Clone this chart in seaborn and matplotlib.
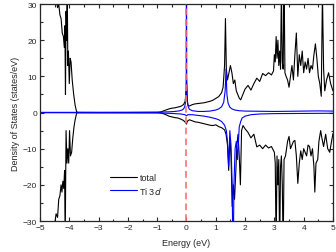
import numpy as np
import pandas as pd
import seaborn as sns
import matplotlib.pyplot as plt
from matplotlib.ticker import MultipleLocator

# total DOS, spin up
e_tot_up = [-5.00, -4.80, -4.60, -4.52, -4.48, -4.44, -4.40, -4.36, -4.32, -4.28, -4.24, -4.20,
            -4.17, -4.15, -4.13, -4.11, -4.09, -4.07, -4.05, -4.03, -4.00, -3.97, -3.94, -3.90,
            -3.85, -3.80, -3.75, -3.70, -3.00, -2.00, -1.00, -0.90, -0.80, -0.70, -0.60, -0.50,
            -0.40, -0.30, -0.20, -0.10, -0.05, -0.02, 0.00, 0.02, 0.05, 0.10, 0.20, 0.30, 0.40,
            0.50, 0.60, 0.70, 0.80, 0.90, 1.00, 1.10, 1.20, 1.25, 1.30, 1.33, 1.36, 1.40, 1.45,
            1.50, 1.55, 1.60, 1.65, 1.70, 1.75, 1.80, 1.85, 1.90, 2.00, 2.10, 2.20, 2.30, 2.40,
            2.50, 2.60, 2.70, 2.80, 2.90, 2.97, 3.00, 3.03, 3.06, 3.09, 3.12, 3.15, 3.18, 3.21,
            3.24, 3.27, 3.30, 3.33, 3.36, 3.40, 3.45, 3.50, 3.55, 3.60, 3.65, 3.70, 3.75, 3.80,
            3.85, 3.90, 3.95, 4.00, 4.05, 4.10, 4.15, 4.20, 4.25, 4.30, 4.35, 4.40, 4.45, 4.50,
            4.55, 4.60, 4.64, 4.68, 4.72, 4.78, 4.85, 4.92, 5.00]
tot_up = [45, 42, 38, 33, 30, 31, 29, 30, 27, 26, 22, 21,
          18, 24, 5, 28, 20, 36, 13, 17, 8, 15, 14, 9,
          5, 2, 0.2, 0.05, 0.02, 0.02, 0.05, 0.1, 0.4, 0.7, 1.0, 1.2,
          1.3, 1.5, 1.7, 2.2, 3.0, 5, 8, 4, 2.0, 1.8, 2.2, 2.4, 2.5,
          2.6, 2.7, 2.9, 3.1, 3.4, 3.9, 4.4, 5.5, 7, 13, 26, 12, 9, 11,
          13, 11, 8, 9, 6, 5, 4, 3.5, 4.5, 6.5, 7.5, 6.2, 8.0, 9.5,
          8.6, 10.8, 10.2, 11.0, 10.4, 11.5, 16, 14, 21, 15, 20, 13, 17, 12,
          34, 14, 12, 38, 11, 10, 9, 7, 10, 13, 9, 16, 22, 10,
          16, 13, 17, 11, 14, 12, 15, 11, 13, 12, 16, 19, 15, 10,
          8, 4.5, 33, 12, 6, 9, 11, 8, 6]

# total DOS, spin down
e_tot_dn = [-5.00, -4.60, -4.50, -4.45, -4.40, -4.36, -4.32, -4.28, -4.25, -4.22, -4.19, -4.16,
            -4.14, -4.11, -4.08, -4.05, -4.02, -3.99, -3.96, -3.92, -3.88, -3.84, -3.80, -3.75,
            -3.70, -1.00, -0.90, -0.80, -0.70, -0.60, -0.50, -0.40, -0.30, -0.20, -0.10, -0.03,
            0.00, 0.03, 0.10, 0.20, 0.30, 0.40, 0.50, 0.60, 0.70, 0.80, 0.90, 1.00, 1.10, 1.20,
            1.30, 1.35, 1.40, 1.44, 1.48, 1.52, 1.56, 1.60, 1.64, 1.68, 1.72, 1.76, 1.80, 1.84,
            1.88, 1.93, 2.00, 2.10, 2.20, 2.30, 2.40, 2.50, 2.60, 2.70, 2.80, 2.90, 3.00, 3.03,
            3.06, 3.09, 3.12, 3.15, 3.18, 3.21, 3.24, 3.27, 3.30, 3.33, 3.38, 3.45, 3.50, 3.55,
            3.60, 3.65, 3.70, 3.75, 3.80, 3.85, 3.90, 3.95, 4.00, 4.05, 4.10, 4.15, 4.20, 4.25,
            4.30, 4.35, 4.38, 4.42, 4.48, 4.52, 4.58, 4.62, 4.68, 4.75, 4.82, 4.89, 4.95, 5.00]
tot_dn = [-45, -36, -31, -28, -29, -24, -23, -20, -22, -19, -21, -16,
          -36, -5, -14, -10, -14, -5, -12, -11, -7, -4, -2, -0.2,
          -0.05, -0.05, -0.1, -0.3, -0.6, -1.0, -1.2, -1.4, -1.5, -1.8, -2.2, -2.8,
          -3.2, -2.4, -2.0, -2.3, -2.6, -2.7, -2.9, -3.1, -3.3, -3.5, -3.6, -3.4, -3.9, -4.2,
          -4.8, -6, -9, -16, -7, -12, -26, -20, -24, -17, -9, -6, -12, -20,
          -5, -3.6, -4.5, -5.5, -7, -6, -9.5, -9, -10, -9, -9.8, -9.4, -11, -14,
          -38, -12, -20, -13, -38, -15, -12, -20, -38, -13, -12, -8, -6.6, -10,
          -9, -8, -7.7, -12, -19.6, -14, -10.6, -13, -10, -11, -12, -9, -9.4, -12,
          -10, -15, -22, -14, -13, -8, -5, -7, -9.4, -6, -10, -11, -8, -5.8]

# Ti 3d, spin up
e_ti_up = [-5.00, -4.00, -3.00, -2.00, -1.00, -0.80, -0.60, -0.40, -0.25, -0.15, -0.10, -0.06,
           -0.03, -0.008, 0.00, 0.008, 0.03, 0.06, 0.10, 0.20, 0.40, 0.60, 0.80, 1.00, 1.10,
           1.20, 1.27, 1.32, 1.35, 1.38, 1.42, 1.48, 1.55, 1.65, 1.80, 2.00, 2.50, 3.00, 3.50,
           4.00, 4.50, 5.00]
ti_up = [0.05, 0.05, 0.05, 0.05, 0.1, 0.15, 0.2, 0.3, 0.45, 0.7, 1.0, 1.6,
         3, 10, 60, 10, 3, 1.6, 0.9, 0.5, 0.3, 0.3, 0.4, 0.7, 1.0,
         1.6, 2.8, 6, 12, 5, 2.6, 1.5, 1.0, 0.7, 0.5, 0.4, 0.35, 0.3, 0.35,
         0.4, 0.45, 0.4]

# Ti 3d, spin down
e_ti_dn = [-5.00, -1.00, -0.80, -0.50, -0.20, -0.05, 0.00, 0.05, 0.20, 0.40, 0.60, 0.80,
           1.00, 1.10, 1.20, 1.30, 1.36, 1.40, 1.44, 1.48, 1.52, 1.56, 1.59, 1.62, 1.66,
           1.70, 1.74, 1.77, 1.80, 1.85, 1.90, 2.00, 2.20, 2.50, 3.00, 4.00, 5.00]
ti_dn = [-0.05, -0.1, -0.15, -0.25, -0.4, -0.6, -0.9, -0.6, -0.6, -0.8, -1.0, -1.3,
         -1.7, -2.0, -2.5, -3.5, -5, -8, -15, -5, -9, -20, -45, -20, -10,
         -8, -13, -9, -4, -2.5, -1.5, -1.0, -0.6, -0.4, -0.3, -0.25, -0.2]

sns.set_style("ticks")
plt.rcParams['font.family'] = ['Liberation Sans', 'DejaVu Sans']

fig = plt.figure(figsize=(3.36, 2.53), dpi=100)
ax = fig.add_axes([0.119, 0.1225, 0.872, 0.8575])

lw = 0.8
sns.lineplot(x=e_tot_up, y=tot_up, color="black", lw=lw, sort=False, estimator=None, ax=ax, label="total")
sns.lineplot(x=e_tot_dn, y=tot_dn, color="black", lw=lw, sort=False, estimator=None, ax=ax)
sns.lineplot(x=e_ti_up, y=ti_up, color="#0000ff", lw=lw, sort=False, estimator=None, ax=ax, label="Ti 3$d$")
sns.lineplot(x=e_ti_dn, y=ti_dn, color="#0000ff", lw=lw, sort=False, estimator=None, ax=ax)

# Fermi level
ax.axvline(0, color="#ff6f6f", lw=1.2, ls=(0, (4, 2.5)), zorder=5)

ax.set_xlim(-5, 5)
ax.set_ylim(-30, 30)
ax.xaxis.set_major_locator(MultipleLocator(1))
ax.xaxis.set_minor_locator(MultipleLocator(0.5))
ax.yaxis.set_major_locator(MultipleLocator(10))
ax.yaxis.set_minor_locator(MultipleLocator(5))
ax.tick_params(which="both", direction="in", top=True, right=True, labelsize=6, pad=2, width=0.8)
ax.tick_params(which="major", length=3)
ax.tick_params(which="minor", length=1.8)
for s in ax.spines.values():
    s.set_linewidth(0.9)

ax.set_xlabel("Energy (eV)", fontsize=6.5, labelpad=5)
ax.set_ylabel("Density of States (states/eV)", fontsize=6.5, labelpad=2)

ax.legend(loc="lower left", bbox_to_anchor=(0.21, 0.08), frameon=False, fontsize=6.5,
          handlelength=3.0, handletextpad=0.3, labelspacing=0.25)

fig.savefig("out.png", dpi=100)
